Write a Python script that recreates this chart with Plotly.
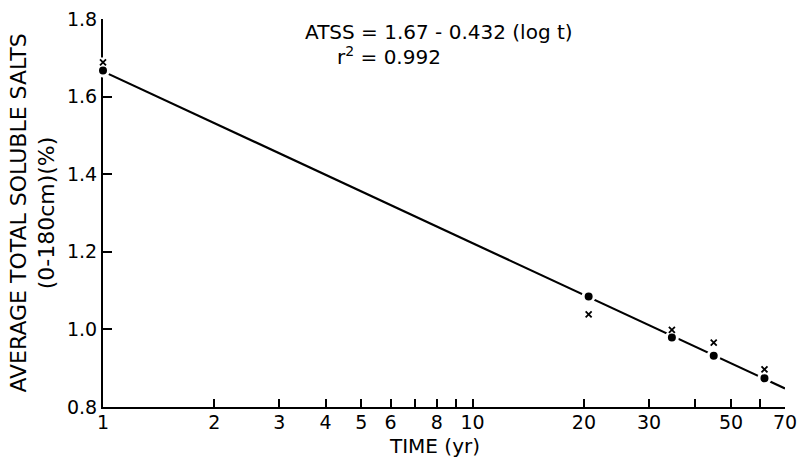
import plotly.graph_objects as go
import math

# Data
time_yr = [1, 20.6, 34.6, 44.9, 61.6]
atss_circle = [1.667, 1.085, 0.979, 0.932, 0.874]
atss_cross = [1.688, 1.039, 0.999, 0.966, 0.897]
line_t = [1, 70]
line_atss = [1.665, 0.848]

x_tickvals = [1, 2, 3, 4, 5, 6, 7, 8, 9, 10, 20, 30, 40, 50, 60, 70]
x_ticktext = ["1", "2", "3", "4", "5", "6", "", "8", "", "10", "20", "30", "", "50", "", "70"]
y_tickvals = [0.8, 1.0, 1.2, 1.4, 1.6, 1.8]
y_ticktext = ["0.8", "1.0", "1.2", "1.4", "1.6", "1.8"]

FONT = "DejaVu Sans"
fig = go.Figure()

fig.add_trace(go.Scatter(x=line_t, y=line_atss, mode="lines",
                         line=dict(color="black", width=2.2), showlegend=False,
                         cliponaxis=False))
# white underlay for crosses at the axis
fig.add_trace(go.Scatter(x=time_yr[:1], y=atss_cross[:1], mode="markers",
                         marker=dict(symbol="square", size=10, color="white"),
                         showlegend=False, cliponaxis=False))
fig.add_trace(go.Scatter(x=time_yr, y=atss_circle, mode="markers",
                         marker=dict(symbol="circle", size=11, color="black",
                                     line=dict(color="white", width=3)),
                         showlegend=False, cliponaxis=False))
fig.add_trace(go.Scatter(x=time_yr, y=atss_cross, mode="markers",
                         marker=dict(symbol="x-thin", size=6,
                                     line=dict(color="black", width=1.8)),
                         showlegend=False, cliponaxis=False))

fig.update_layout(
    width=802, height=460,
    margin=dict(l=103, r=17, t=19, b=53),
    paper_bgcolor="white", plot_bgcolor="white",
    font=dict(family=FONT, color="black"),
    xaxis=dict(type="log", range=[0, math.log10(70)], automargin=False,
               tickvals=x_tickvals, ticktext=x_ticktext,
               ticks="inside", ticklen=8, tickwidth=1.5, tickcolor="black",
               showline=True, linecolor="black", linewidth=2.2,
               showgrid=False, zeroline=False, layer="below traces",
               ticklabelstandoff=-3,
               tickfont=dict(size=19, family=FONT)),
    yaxis=dict(range=[0.8, 1.8], tickvals=y_tickvals, ticktext=y_ticktext,
               automargin=False,
               ticks="inside", ticklen=9, tickwidth=1.5, tickcolor="black",
               showline=True, linecolor="black", linewidth=2.2,
               showgrid=False, zeroline=False, layer="below traces",
               tickfont=dict(size=19, family=FONT),
               title=dict(text="AVERAGE TOTAL SOLUBLE SALTS<br>(0-180cm)(%)",
                          font=dict(size=22, family=FONT), standoff=6)),
    annotations=[
        dict(text="TIME (yr)", xref="paper", yref="paper",
             x=(434 - 103) / 682, y=-(446 - 407) / 388, xanchor="center",
             yanchor="middle", showarrow=False, font=dict(size=20, family=FONT)),
        dict(text="ATSS = 1.67 - 0.432 (log t)", xref="paper", yref="paper",
             x=(303 - 103) / 682, y=(407 - 32) / 388, xanchor="left",
             yanchor="middle", showarrow=False, font=dict(size=20, family=FONT)),
        dict(text="r<sup>2</sup> = 0.992", xref="paper", yref="paper",
             x=(335 - 103) / 682, y=(407 - 56) / 388, xanchor="left",
             yanchor="middle", showarrow=False, font=dict(size=20, family=FONT)),
    ],
)

fig.write_html("out.html", config={"displayModeBar": False},
               post_script="document.body.style.margin='0';")
